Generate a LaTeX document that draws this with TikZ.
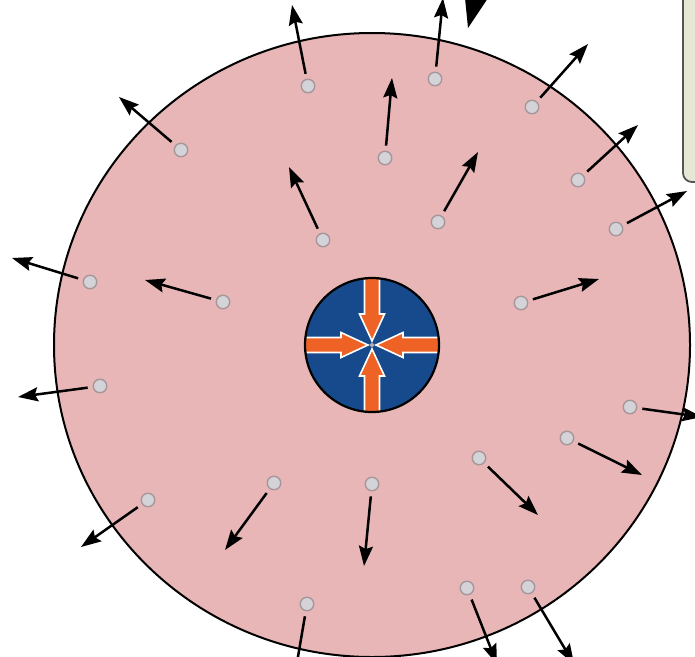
\documentclass[tikz,border=0pt]{standalone}
\usetikzlibrary{arrows.meta}
\definecolor{pinkfill}{RGB}{232,182,182}
\definecolor{dotfill}{RGB}{212,212,216}
\definecolor{dotline}{RGB}{165,150,155}
\definecolor{coreblue}{RGB}{22,74,140}
\definecolor{coreorange}{RGB}{238,98,38}
\definecolor{boxfill}{RGB}{228,232,212}
\definecolor{boxline}{RGB}{85,85,85}
\newcommand\corearrow[1]{%
  \begin{scope}[shift={(372,345)}, rotate=#1]
    \filldraw[draw=white, fill=coreorange, line width=1.6pt, line join=miter]
      (-7.5,-80) -- (-7.5,-31) -- (-12.5,-31) -- (0,-4) -- (12.5,-31) -- (7.5,-31) -- (7.5,-80) -- cycle;
  \end{scope}}
\begin{document}
\begin{tikzpicture}[x=1pt,y=-1pt,
  particle/.style={circle, draw=dotline, fill=dotfill, line width=1.4pt, minimum size=13.5pt, inner sep=0pt},
  motion/.style={line width=2.5pt, shorten <=5pt, -{Stealth[length=20pt,width=14pt,inset=3pt]}},
  cloudline/.style={line width=2pt, draw=black, fill=pinkfill}]
\useasboundingbox (0,0) rectangle (695,656);
\clip (0,0) rectangle (695,656);
\fill[white] (0,0) rectangle (695,656);
% callout box at right
\draw[boxline, line width=1.8pt, fill=boxfill, rounded corners=9pt] (683,-30) rectangle (740,182);
% pointer of the callout
\fill[black] (465,-2) -- (488,-2) -- (468,28) -- cycle;
% the cloud
\path[cloudline] (372,345) ellipse [x radius=318, y radius=312];
% core
\node[circle, fill=coreblue, minimum size=134pt, inner sep=0pt] (core) at (372,345) {};
\begin{scope}
  \clip (372,345) circle (66);
  \corearrow{0}\corearrow{90}\corearrow{180}\corearrow{270}
\end{scope}
\fill[gray!60] (372,345) circle (2);
\draw[line width=2.2pt] (372,345) circle (67);
% particles and their motion
\foreach \i/\dx/\dy/\tx/\ty in {
  1/308/86/292/5, 2/181/150/119/97, 3/323/240/289/167, 4/435/79/443/-2,
  5/385/158/392/78, 6/532/107/588/44, 7/438/222/478/152, 8/578/180/638/125,
  9/616/229/687/191, 10/521/303/599/279, 11/630/407/702/417, 12/567/438/642/475,
  13/479/458/538/515, 14/467/588/497/664, 15/528/587/574/664, 16/307/604/294/680,
  17/274/483/225/550, 18/372/484/364/566, 19/148/500/81/547, 20/90/282/12/258,
  21/223/302/145/280, 22/100/386/18/397}{
  \node[particle] (d\i) at (\dx,\dy) {};
  \coordinate (t\i) at (\tx,\ty);
  \draw[motion] (d\i) -- (t\i);
}
\end{tikzpicture}
\end{document}
